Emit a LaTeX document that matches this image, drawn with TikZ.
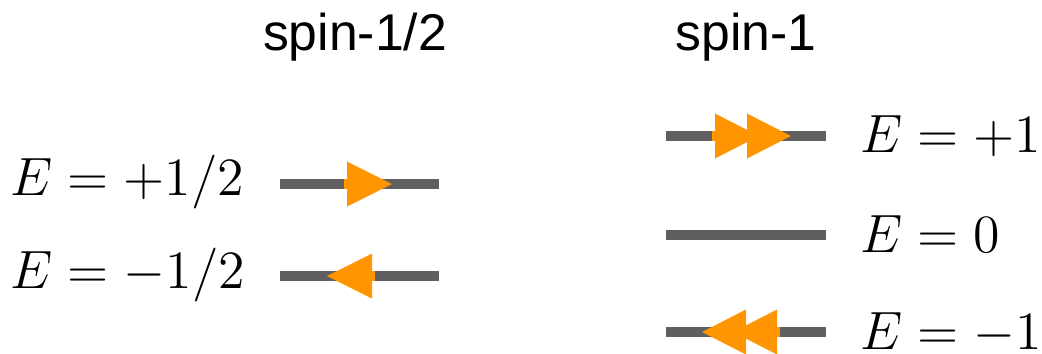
\documentclass[tikz,border=0pt]{standalone}
\usepackage{fontspec}
\setsansfont{Liberation Sans}
\definecolor{levelgray}{HTML}{5F5F5F}
\definecolor{spinorange}{HTML}{FF9500}
\begin{document}
\begin{tikzpicture}[x=0.01cm,y=-0.01cm,
  level/.style={draw=levelgray,line width=0.1cm},
  shaft/.style={draw=spinorange,line width=0.1cm},
  tri/.style={fill=spinorange},
  elabel/.style={anchor=base west,inner sep=0pt,scale=1.064,transform shape,font=\fontsize{14.4}{17}\selectfont},
  title/.style={anchor=base,inner sep=0pt,font=\sffamily\fontsize{14.7}{17}\selectfont}]
\useasboundingbox (0,0) rectangle (1042,353);
\clip (0,0) rectangle (1042,353);
% titles
\node[title] (t1) at (355,50) {spin-1/2};
\node[title] (t2) at (746,50) {spin-1};
% spin-1/2 levels
\coordinate (a1) at (280,184); \coordinate (b1) at (439,184);
\coordinate (a2) at (280,276); \coordinate (b2) at (439,276);
\draw[level] (a1) -- (b1);
\draw[level] (a2) -- (b2);
% spin-1 levels
\coordinate (c1) at (666,136); \coordinate (d1) at (826,136);
\coordinate (c2) at (666,235); \coordinate (d2) at (826,235);
\coordinate (c3) at (666,332); \coordinate (d3) at (826,332);
\draw[level] (c1) -- (d1);
\draw[level] (c2) -- (d2);
\draw[level] (c3) -- (d3);
% arrows spin-1/2
\draw[shaft] (344,184) -- (348,184);
\fill[tri] (347,161.5) -- (392,184) -- (347,206.5) -- cycle;
\draw[shaft] (371,276) -- (375,276);
\fill[tri] (372,253.5) -- (327,276) -- (372,298.5) -- cycle;
% arrows spin-1
\draw[shaft] (712,136) -- (716,136);
\fill[tri] (715,113.5) -- (759,136) -- (715,158.5) -- cycle;
\fill[tri] (747,113.5) -- (791,136) -- (747,158.5) -- cycle;
\draw[shaft] (776,332) -- (780,332);
\fill[tri] (777,309.5) -- (733,332) -- (777,354.5) -- cycle;
\fill[tri] (746,309.5) -- (702,332) -- (746,354.5) -- cycle;
% labels
\node[elabel] (l1) at (10,195) {$E=+1/2$};
\node[elabel] (l2) at (10,288) {$E=-1/2$};
\node[elabel] (l3) at (860,152) {$E=+1$};
\node[elabel] (l4) at (860,252) {$E=0$};
\node[elabel] (l5) at (860,349) {$E=-1$};
\end{tikzpicture}
\end{document}
